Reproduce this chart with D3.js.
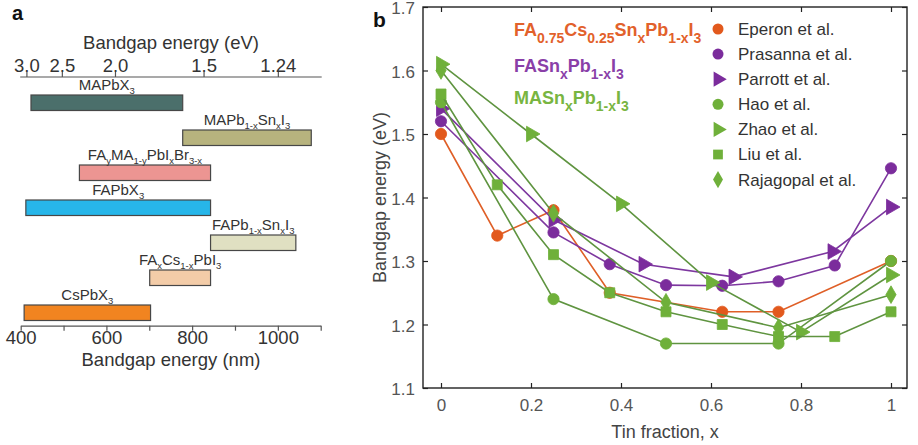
<!DOCTYPE html>
<html>
<head>
<meta charset="utf-8">
<script src="https://cdn.jsdelivr.net/npm/d3@7/dist/d3.min.js"></script>
<style>
  html, body { margin: 0; padding: 0; background: #fff; }
  svg { display: block; font-family: "Liberation Sans", Arial, Helvetica, sans-serif; }
</style>
</head>
<body>
<svg id="chart" width="918" height="445"></svg>
<script>
// ---------- Panel a: bandgap ranges of perovskite families ----------
// "_{...}" marks a subscript
const families = ["MAPbX_{3}", "MAPb_{1-x}Sn_{x}I_{3}", "FA_{y}MA_{1-y}PbI_{x}Br_{3-x}", "FAPbX_{3}",
                  "FAPb_{1-x}Sn_{x}I_{3}", "FA_{x}Cs_{1-x}PbI_{3}", "CsPbX_{3}"];
const rangeStartNm = [424, 778, 537, 412, 843, 701, 408];
const rangeEndNm   = [778, 1078, 843, 843, 1042, 843, 703];
const familyColors = ["#4b6f6b", "#b7b37e", "#ec9592", "#27b6e9", "#e0e0c2", "#f3cca8", "#f18420"];
const nmTicks = [400, 500, 600, 700, 800, 900, 1000, 1100];
const nmTickLabels = ["400", "", "600", "", "800", "", "1000", ""];
const evTicks = [3.0, 2.5, 2.0, 1.5, 1.24];
const evTickLabels = ["3.0", "2.5", "2.0", "1.5", "1.24"];

// ---------- Panel b: bandgap vs tin fraction ----------
const eperonX   = [0, 0.125, 0.25, 0.375, 0.625, 0.75, 1];
const eperonY   = [1.50, 1.34, 1.38, 1.25, 1.22, 1.22, 1.30];
const prasannaX = [0, 0.25, 0.375, 0.5, 0.625, 0.75, 0.875, 1];
const prasannaY = [1.52, 1.345, 1.295, 1.262, 1.261, 1.268, 1.293, 1.446];
const parrottX  = [0, 0.25, 0.45, 0.65, 0.87, 1];
const parrottY  = [1.54, 1.365, 1.295, 1.275, 1.315, 1.385];
const haoX      = [0, 0.25, 0.5, 0.75, 1];
const haoY      = [1.55, 1.24, 1.17, 1.17, 1.30];
const zhaoX     = [0, 0.2, 0.4, 0.6, 0.8, 1];
const zhaoY     = [1.61, 1.50, 1.39, 1.266, 1.188, 1.278];
const liuX      = [0, 0.125, 0.25, 0.375, 0.5, 0.625, 0.75, 0.875, 1];
const liuY      = [1.563, 1.42, 1.31, 1.25, 1.22, 1.20, 1.181, 1.181, 1.22];
const rajaX     = [0, 0.25, 0.5, 0.75, 1];
const rajaY     = [1.60, 1.375, 1.235, 1.195, 1.247];

const seriesNames = ["Eperon et al.", "Prasanna et al.", "Parrott et al.", "Hao et al.",
                     "Zhao et al.", "Liu et al.", "Rajagopal et al."];
const compositions = ["FA_{0.75}Cs_{0.25}Sn_{x}Pb_{1-x}I_{3}", "FASn_{x}Pb_{1-x}I_{3}", "MASn_{x}Pb_{1-x}I_{3}"];
const xTicks = [0, 0.2, 0.4, 0.6, 0.8, 1];
const yTicks = [1.1, 1.2, 1.3, 1.4, 1.5, 1.6, 1.7];

const ORANGE = "#e2591d", PURPLE = "#7b2c9c", GREEN = "#6fb03a";
const ORANGE_L = "#df5f27", PURPLE_L = "#7d379f", GREEN_L = "#5f9440";

const svg = d3.select("#chart");

// writes a label with subscripts as tspans
function richText(textSel, str, size, subSize, shift) {
  const parts = str.split(/(_\{[^}]*\})/).filter(s => s.length);
  let inSub = false;
  parts.forEach(p => {
    const sub = p.startsWith("_{");
    const t = textSel.append("tspan").text(sub ? p.slice(2, -1) : p)
      .attr("font-size", sub ? subSize : size);
    if (sub && !inSub) t.attr("dy", shift);
    if (!sub && inSub) t.attr("dy", -shift);
    inSub = sub;
  });
}

// ===== Panel a =====
const ga = svg.append("g");
ga.append("text").attr("x", 12).attr("y", 20).attr("font-size", 20).attr("font-weight", "bold")
  .attr("fill", "#111").text("a");

const xNm = d3.scaleLinear().domain([400, 1100]).range([20.7, 320.7]);
const yFam = d3.scaleBand().domain(families).range([95, 95 + 35 * (7 - 0.557)])
  .paddingInner(0.557).paddingOuter(0);

// top energy axis (eV -> nm)
const topAxisY = 77;
const gTop = ga.append("g").attr("transform", `translate(0,${topAxisY})`)
  .call(d3.axisTop(xNm).tickValues(evTicks.map(e => 1240 / e))
    .tickFormat((d, i) => evTickLabels[i]).tickSizeInner(5).tickSizeOuter(0).tickPadding(0));
gTop.select(".domain").attr("d", `M${xNm(400) - 0.5},0H${xNm(1100) + 1}`);
gTop.selectAll("line, .domain").attr("stroke", "#555").attr("stroke-width", 1.2);
gTop.selectAll("text").attr("font-size", 18.5).attr("fill", "#333").attr("font-family", null);
ga.append("text").attr("x", 171).attr("y", 49).attr("text-anchor", "middle")
  .attr("font-size", 18.5).attr("fill", "#333").text("Bandgap energy (eV)");

// bottom wavelength axis
const botAxisY = 325.7;
const gBot = ga.append("g").attr("transform", `translate(0,${botAxisY})`)
  .call(d3.axisBottom(xNm).tickValues(nmTicks).tickFormat((d, i) => nmTickLabels[i])
    .tickSizeInner(5).tickSizeOuter(0).tickPadding(0));
gBot.selectAll("line, .domain").attr("stroke", "#555").attr("stroke-width", 1.2);
gBot.selectAll("text").attr("font-size", 18.5).attr("fill", "#333").attr("font-family", null);
ga.append("text").attr("x", 171).attr("y", 366).attr("text-anchor", "middle")
  .attr("font-size", 18.5).attr("fill", "#333").text("Bandgap energy (nm)");

// range bars with labels
families.forEach((f, i) => {
  const x0 = xNm(rangeStartNm[i]), x1 = xNm(rangeEndNm[i]);
  ga.append("rect").attr("x", x0).attr("y", yFam(f)).attr("width", x1 - x0)
    .attr("height", yFam.bandwidth()).attr("fill", familyColors[i])
    .attr("stroke", "#474747").attr("stroke-width", 1.2);
  const t = ga.append("text").attr("x", (x0 + x1) / 2).attr("y", yFam(f) - 5)
    .attr("text-anchor", "middle").attr("fill", "#333");
  richText(t, f, 15, 9.5, 3.5);
});

// ===== Panel b =====
const gb = svg.append("g");
gb.append("text").attr("x", 373).attr("y", 27).attr("font-size", 21).attr("font-weight", "bold")
  .attr("fill", "#111").text("b");

const pLeft = 423, pRight = 907, pTop = 7, pBottom = 388;
const x = d3.scaleLinear().domain([0, 1]).range([441, 891]);
const y = d3.scaleLinear().domain([1.1, 1.7]).range([pBottom, pTop]);
const fmt = d => String(+(+d).toFixed(1));

const axStyle = g => {
  g.select(".domain").remove();
  g.selectAll("line").attr("stroke", "#222").attr("stroke-width", 1.2);
  g.selectAll("text").attr("font-size", 17).attr("fill", "#555").attr("font-family", null);
};
gb.append("g").attr("transform", `translate(0,${pBottom})`)
  .call(d3.axisBottom(x).tickValues(xTicks).tickFormat(fmt).tickSizeInner(-5).tickSizeOuter(0).tickPadding(11))
  .call(axStyle);
gb.append("g").attr("transform", `translate(0,${pTop})`)
  .call(d3.axisTop(x).tickValues(xTicks).tickFormat("").tickSizeInner(-5).tickSizeOuter(0))
  .call(axStyle);
gb.append("g").attr("transform", `translate(${pLeft},0)`)
  .call(d3.axisLeft(y).tickValues(yTicks).tickFormat(fmt).tickSizeInner(-5).tickSizeOuter(0).tickPadding(8))
  .call(axStyle)
  .call(g => g.selectAll("text").attr("dy", "0.4em"));
gb.append("g").attr("transform", `translate(${pRight},0)`)
  .call(d3.axisRight(y).tickValues(yTicks).tickFormat("").tickSizeInner(-5).tickSizeOuter(0))
  .call(axStyle);
gb.append("rect").attr("x", pLeft).attr("y", pTop).attr("width", pRight - pLeft).attr("height", pBottom - pTop)
  .attr("fill", "none").attr("stroke", "#222").attr("stroke-width", 1.4);

gb.append("text").attr("x", (pLeft + pRight) / 2).attr("y", 438).attr("text-anchor", "middle")
  .attr("font-size", 18).attr("fill", "#444").text("Tin fraction, x");
gb.append("text").attr("transform", `translate(386,${(pTop + pBottom) / 2}) rotate(-90)`)
  .attr("text-anchor", "middle").attr("font-size", 18).attr("fill", "#444").text("Bandgap energy (eV)");

// marker shapes
const shape = {
  circle:   { type: d3.symbolCircle,   size: 100, rot: 0 },
  triangle: { type: d3.symbolTriangle, size: 105, rot: 90 },
  square:   { type: d3.symbolSquare,   size: 100, rot: 0 },
  diamond:  { type: d3.symbolDiamond,  size: 90,  rot: 0 }
};
const series = [
  { xs: eperonX,   ys: eperonY,   c: ORANGE, lc: ORANGE_L, m: "circle" },
  { xs: prasannaX, ys: prasannaY, c: PURPLE, lc: PURPLE_L, m: "circle" },
  { xs: parrottX,  ys: parrottY,  c: PURPLE, lc: PURPLE_L, m: "triangle" },
  { xs: haoX,      ys: haoY,      c: GREEN,  lc: GREEN_L,  m: "circle" },
  { xs: zhaoX,     ys: zhaoY,     c: GREEN,  lc: GREEN_L,  m: "triangle" },
  { xs: liuX,      ys: liuY,      c: GREEN,  lc: GREEN_L,  m: "square" },
  { xs: rajaX,     ys: rajaY,     c: GREEN,  lc: GREEN_L,  m: "diamond" }
];
const line = d3.line().x(d => x(d[0])).y(d => y(d[1]));
const plot = gb.append("g");
series.forEach(s => {
  const pts = s.xs.map((v, i) => [v, s.ys[i]]);
  const g = plot.append("g");
  g.append("path").attr("d", line(pts)).attr("fill", "none").attr("stroke", s.lc).attr("stroke-width", 1.6);
  const sh = shape[s.m];
  g.selectAll("path.mk").data(pts).join("path").attr("class", "mk")
    .attr("d", d3.symbol().type(sh.type).size(sh.size))
    .attr("transform", d => `translate(${x(d[0])},${y(d[1])}) rotate(${sh.rot})`)
    .attr("fill", s.c).attr("stroke", s.c).attr("stroke-width", 0.8);
});

// composition key
const compColors = ["#e2612b", "#8a3fa8", "#78b541"];
const compY = [36, 72, 104];
compositions.forEach((c, i) => {
  const t = gb.append("text").attr("x", 514).attr("y", compY[i]).attr("fill", compColors[i])
    .attr("font-weight", "bold");
  richText(t, c, 18, 14, 7);
});

// series legend
const legY0 = 29, legStep = 25.1;
series.forEach((s, i) => {
  const ly = legY0 + i * legStep;
  const sh = shape[s.m];
  gb.append("path").attr("d", d3.symbol().type(sh.type).size(sh.size * 0.95))
    .attr("transform", `translate(718,${ly}) rotate(${sh.rot})`).attr("fill", s.c);
  gb.append("text").attr("x", 738).attr("y", ly).attr("dy", "0.35em").attr("font-size", 17)
    .attr("fill", "#333").text(seriesNames[i]);
});
</script>
</body>
</html>
